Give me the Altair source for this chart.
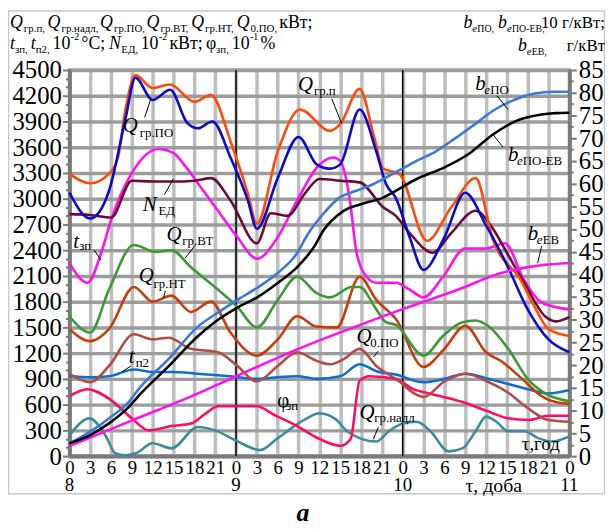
import altair as alt
import pandas as pd

FONT = "Liberation Serif"
W, H = 505, 390

# ---------------- data (hours from day 8, 00:00) ----------------
qgrp_h = [0, 3, 5.7, 7, 8.1, 9.5, 12, 14.5, 18, 20.4, 23.2, 25.7, 27, 30, 33.2, 37.5, 39, 41.8, 43.8, 45.2, 47.5, 51.5, 55, 58.5, 61, 65, 67, 69, 72]
qgrp_v = [3290, 3180, 3290, 3480, 4050, 4440, 4290, 4330, 4130, 4210, 3670, 3060, 2710, 3550, 4040, 3790, 3870, 4280, 3750, 3350, 3290, 2510, 2900, 3240, 2520, 2050, 1740, 1480, 1400]

qgrpo_h = [0, 3, 5.7, 8.1, 9.5, 12, 14.5, 17, 18.5, 20.6, 23.2, 25.7, 27, 30, 33, 35.6, 37.5, 39, 41.8, 44.2, 45.6, 47, 49, 51, 54, 57, 60, 63, 66, 69, 72]
qgrpo_v = [3070, 2770, 3090, 3940, 4410, 4150, 4270, 3880, 3820, 3900, 3480, 2980, 2650, 3240, 3720, 3400, 3350, 3400, 4040, 3550, 3170, 3010, 2550, 2170, 2550, 3070, 2690, 2230, 1710, 1360, 1210]

ned_h = [0, 3, 6, 9, 12, 15, 18, 20.4, 23.2, 27, 29, 31.4, 33.9, 36, 39, 41.8, 45.2, 47, 49, 52.3, 55, 58.5, 61, 63, 65.5, 68.5, 70, 72]
ned_v = [2820, 2810, 2780, 3210, 3200, 3200, 3210, 3240, 2980, 2480, 2830, 2800, 3060, 3230, 3210, 3190, 2900, 2800, 2600, 2370, 2600, 2860, 2650, 2370, 2020, 1630, 1570, 1620]

tzp_h = [0, 2.6, 4.7, 6, 9, 12.8, 15, 16.7, 18.5, 21.4, 24.2, 27, 30, 32.8, 35.6, 38, 39, 40.4, 41.3, 42.8, 44.2, 47, 49, 51, 53.8, 57, 60, 62.7, 65.5, 68, 72]
tzp_v = [2250, 2020, 2400, 2750, 3300, 3580, 3530, 3380, 3180, 2860, 2550, 2300, 2550, 2980, 3360, 3480, 3440, 2980, 2400, 2090, 2020, 2020, 1940, 1850, 2090, 2420, 2420, 2480, 2050, 1790, 1710]

gvt_h = [0, 3, 5.7, 9.3, 12.4, 14.7, 17.5, 21.4, 24.2, 27, 30, 32.8, 35.6, 37.5, 40.7, 41.8, 44.2, 45.6, 47, 51, 53.8, 56.6, 58.5, 60.4, 63.2, 66, 68.5, 72]
gvt_v = [1630, 1440, 1940, 2460, 2380, 2400, 2200, 1940, 1740, 1500, 1820, 2090, 1900, 1850, 1970, 1970, 1710, 1560, 1530, 1170, 1400, 1560, 1580, 1510, 1250, 900, 730, 640]

gnt_h = [0, 3, 5.7, 9.3, 12, 14.7, 17.5, 20.4, 23.2, 27, 30, 32.8, 35.6, 38.5, 41.8, 44.2, 47, 51, 54, 57, 60, 62.3, 65.2, 68, 70, 72]
gnt_v = [1480, 1340, 1480, 1970, 1800, 1870, 1680, 1800, 1440, 1170, 1360, 1630, 1510, 1500, 2090, 1820, 1600, 1040, 1250, 1520, 1210, 1100, 900, 700, 630, 610]

q0po_h = [0, 3, 5.7, 9.3, 12, 14.3, 17.5, 21.4, 24.2, 27, 30, 32.8, 35.6, 37.5, 39.5, 41.8, 44.2, 47, 51, 54, 57, 60.2, 63, 66, 69, 72]
q0po_v = [960, 860, 1050, 1420, 1360, 1380, 1250, 1210, 1050, 870, 1050, 1210, 1110, 1070, 1130, 1250, 1050, 900, 690, 870, 960, 870, 750, 560, 420, 400]

tp2_h = [0, 3, 5.7, 9.3, 12, 14.7, 18.5, 23.2, 27, 30, 32.8, 35.6, 39, 41.8, 44.2, 47, 51, 54, 57, 60.4, 63.2, 66, 69, 72]
tp2_v = [930, 920, 930, 1010, 980, 980, 960, 930, 900, 920, 930, 900, 930, 1070, 990, 950, 860, 900, 960, 900, 840, 780, 730, 770]

phi_h = [0, 2.6, 5.7, 9, 11.4, 14.7, 17.5, 19.7, 21.4, 24, 27, 29.5, 32.8, 36, 39, 40.5, 41.8, 43.2, 47, 49.5, 51.8, 56.6, 60, 63.2, 66, 69, 72]
phi_v = [700, 780, 670, 440, 300, 350, 380, 500, 580, 580, 580, 480, 350, 200, 120, 200, 880, 930, 900, 780, 730, 630, 530, 440, 420, 470, 470]

nadl_h = [0, 2.9, 5.2, 6.6, 8, 9.6, 12, 14.7, 18.5, 21, 24, 27.5, 30, 34.2, 36, 38.5, 40, 44.2, 46, 48, 50, 52, 54.6, 56.6, 58.5, 60, 61.5, 63.2, 65.5, 67.5, 69.5, 72]
nadl_v = [240, 440, 240, 35, 10, 35, 150, 90, 340, 300, 180, 70, 210, 440, 500, 420, 290, 170, 290, 380, 400, 290, 55, 90, 290, 460, 400, 290, 290, 210, 170, 230]

# right axis series
bepo_h = [0, 3, 5.7, 8.6, 10, 14.3, 18.5, 21.4, 24.2, 27, 30, 32.8, 34.2, 36.6, 38.9, 41.3, 43.8, 47, 50, 52.8, 55.6, 58.5, 61.3, 64.2, 67, 69.8, 72]
bepo_v = [2.8, 5.4, 8.3, 12, 14.8, 21.4, 28.5, 31.6, 34.4, 37, 40.3, 44.7, 48.5, 53.4, 56.9, 58.4, 59.9, 62.5, 65, 67.1, 70, 73.2, 76.3, 78.5, 79.8, 80.2, 80.2]

bepoev_h = [0, 3, 5.7, 8.6, 10, 14.3, 18.5, 21.4, 24.2, 27, 30, 32.8, 35.2, 36.6, 39.5, 42.3, 45.2, 47, 50, 53.8, 57.5, 61, 64.2, 68, 70, 72]
bepoev_v = [2.8, 4.6, 7.2, 10.9, 13.3, 19.8, 26.4, 30, 32.7, 34.9, 38.1, 41.6, 46, 49.7, 54, 55.6, 56.9, 58.4, 61, 63.4, 66.5, 70.8, 73.7, 75.2, 75.5, 75.6]

beev_h = [0, 8.6, 16.7, 24.2, 32.8, 41.4, 47, 51.8, 56.6, 61.3, 66, 72]
beev_v = [2.2, 7.6, 12.6, 17.7, 23.5, 28.6, 31.8, 34.4, 37, 39.9, 41.6, 42.5]

day_hours = [0, 24, 48, 72]
day_labels = ["8", "9", "10", "11"]
day_lines = [24, 48]

left_specs = [
    ("Q_gr_nadl", "#3A8C9C", nadl_h, nadl_v),
    ("phi_zp", "#FF0A64", phi_h, phi_v),
    ("t_p2", "#0A6ED2", tp2_h, tp2_v),
    ("Q_0PO", "#B44C46", q0po_h, q0po_v),
    ("Q_gr_NT", "#CC3A0A", gnt_h, gnt_v),
    ("Q_gr_VT", "#3A9A32", gvt_h, gvt_v),
    ("t_zp", "#FF10F0", tzp_h, tzp_v),
    ("N_ED", "#6A0A3A", ned_h, ned_v),
    ("Q_gr_p", "#FF4A0A", qgrp_h, qgrp_v),
    ("Q_gr_PO", "#0A0ACC", qgrpo_h, qgrpo_v),
]
right_specs = [
    ("b_eEV", "#FF10F0", beev_h, beev_v),
    ("b_ePO", "#3C78D8", bepo_h, bepo_v),
    ("b_ePO_EV", "#000000", bepoev_h, bepoev_v),
]

def long(specs, col):
    rows = []
    for name, _, hs, vs in specs:
        for h, v in zip(hs, vs):
            rows.append({"s": name, "h": h, col: v})
    return pd.DataFrame(rows)

left_df = long(left_specs, "v")
right_df = long(right_specs, "r")
all_names = [s[0] for s in left_specs + right_specs]
all_colors = [s[1] for s in left_specs + right_specs]

color = alt.Color("s:N", scale=alt.Scale(domain=all_names, range=all_colors), legend=None)

xenc = alt.X(
    "h:Q",
    scale=alt.Scale(domain=[0, 72], nice=False, zero=False),
    axis=alt.Axis(
        values=list(range(0, 73, 3)),
        labelExpr="'' + (datum.value % 24)",
        grid=True, gridColor="#BDBDBD", gridWidth=3.5,
        tickSize=0, labelFontSize=19, labelPadding=3,
        labelOverlap=False, labelFlush=False, labelBound=False,
        domainColor="#7A7A7A", domainWidth=4, title=None,
    ),
)

cond300 = "datum.value % 300 === 0"
yleft = alt.Y(
    "v:Q",
    scale=alt.Scale(domain=[0, 4500], nice=False),
    axis=alt.Axis(
        values=list(range(0, 4501, 100)),
        format="d",
        labelExpr="datum.value % 300 === 0 ? datum.label : ''",
        grid=True, gridColor="#9C9C9C", gridWidth=3.5,
        gridOpacity={"condition": {"test": cond300, "value": 1}, "value": 0},
        tickSize={"condition": {"test": cond300, "value": 7}, "value": 4},
        tickColor="#7A7A7A", tickWidth=2,
        labelFontSize=25, labelPadding=1,
        labelOverlap=False, labelFlush=False, labelBound=False,
        domainColor="#7A7A7A", domainWidth=4, title=None,
    ),
)
cond5 = "datum.value % 5 === 0"
yright = alt.Y(
    "r:Q",
    scale=alt.Scale(domain=[0, 85], nice=False),
    axis=alt.Axis(
        orient="right",
        values=[i * 2.5 for i in range(35)],
        format="d",
        labelExpr="datum.value % 5 === 0 ? datum.label : ''",
        grid=False,
        tickSize={"condition": {"test": cond5, "value": 7}, "value": 4},
        tickColor="#7A7A7A", tickWidth=2,
        labelFontSize=25, labelPadding=2,
        labelOverlap=False, labelFlush=False, labelBound=False,
        domainColor="#7A7A7A", domainWidth=4, title=None,
    ),
)

left_lines = alt.Chart(left_df).mark_line(strokeWidth=2.6, interpolate="monotone").encode(
    x=xenc, y=yleft, color=color, detail="s:N")
right_lines = alt.Chart(right_df).mark_line(strokeWidth=2.6, interpolate="monotone").encode(
    x=xenc, y=yright, color=color, detail="s:N")

rules = alt.Chart(pd.DataFrame({"h": day_lines})).mark_rule(color="black", strokeWidth=1.5).encode(x=xenc)

days = alt.Chart(pd.DataFrame({"h": day_hours, "t": day_labels})).mark_text(
    font=FONT, fontSize=19, baseline="alphabetic", color="black").encode(
    x=xenc, y=alt.value(425), text="t:N")

# ---------------- annotation texts (plot pixel coords) ----------------
# in-plot curve labels: italic main letter
lab_it_x = [54, 231, 74, 4, 98, 70, 60, 290, 293, 410, 443, 463]
lab_it_y = [63, 21, 142, 180, 173, 214, 296, 276, 353, 20, 92, 172]
lab_it_t = ["Q", "Q", "N", "t", "Q", "Q", "t", "Q", "Q", "b", "b", "b"]
# in-plot subscripts (upright)
lab_sub_x = [71, 247, 90, 10, 114, 85, 67, 304, 308, 425, 458, 478]
lab_sub_y = [68, 25, 146, 182, 177, 220, 300, 280, 356, 24, 96, 176]
lab_sub_t = ["гр.ПО", "гр.п", "ЕД", "зп", "гр.ВТ", "гр.НТ", "п2", "0.ПО", "гр.надл", "ПО", "ПО-ЕВ", "ЕВ"]
# in-plot italic "e" of b_e
lab_e_x = [419, 452, 472]
lab_e_y = [24, 96, 176]
# other in-plot texts
misc_x = [210, 219, 457, 400]
misc_y = [340, 343, 384, 426]
misc_t = ["φ", "зп", "τ,год", "τ, доба"]
misc_s = [21, 13, 19, 20]

# header (left block)
hd_it_x = [-60, -22, 31, 78, 123, 169, -60, -39, 40]
hd_it_y = [-42, -42, -42, -42, -42, -42, -21, -21, -21]
hd_it_t = ["Q", "Q", "Q", "Q", "Q", "Q", "t", "t", "N"]
hd_sub_x = [-46, -8, 45, 92, 137, 183, -55, -34, 52.5, 148]
hd_sub_y = [-38, -38, -38, -38, -38, -38, -17, -17, -17, -17]
hd_sub_t = ["гр.п,", "гр.надл,", "гр.ПО,", "гр.ВТ,", "гр.НТ,", "0.ПО,", "зп,", "п2,", "ЕД,", "зп,"]
hd_txt_x = [212, -17, 12, 72, 101, 138, 164, 193]
hd_txt_y = [-42, -21, -21, -21, -21, -21, -21, -21]
hd_txt_t = ["кВт;", "10", "°C;", "10", "кВт;", "φ", "10", "%"]
hd_sup_x = [1.5, 90.5, 182.5]
hd_sup_y = [-30, -30, -30]
hd_sup_t = ["-2", "-2", "-1"]

# header (right block)
hr_it_x = [398, 433, 453]
hr_it_y = [-42, -42, -19]
hr_e_x = [407, 442, 462]
hr_e_y = [-38, -38, -15]
hr_sub_x = [412, 447, 467]
hr_sub_y = [-38, -38, -15]
hr_sub_t = ["ПО,", "ПО-ЕВ,", "ЕВ,"]
hr_txt_y = [-42, -19]
hr_txt_t = ["10 г/кВт;", "г/кВт"]

# leader lines
ld_x = [82, 265, 105, 25, 117, 95, 53, 312, 312, 432, 427, 477]
ld_y = [30, 29, 110, 182, 190, 230, 305, 284, 361, 26, 64, 178]
ld_x2 = [76, 275, 96, 32, 127, 97, 62, 307, 307, 443, 438, 473]
ld_y2 = [48, 54, 126, 192, 177, 223, 299, 290, 373, 40, 78, 195]


def txt_layer(xs, ys, ts, size, align="left", **kw):
    sizes = size if isinstance(size, list) else [size] * len(xs)
    df = pd.DataFrame({"x": xs, "y": ys, "t": ts, "fs": sizes})
    return alt.Chart(df).mark_text(font=FONT, align=align, baseline="alphabetic", color="black", **kw).encode(
        x=alt.X("x:Q", scale=None, axis=None),
        y=alt.Y("y:Q", scale=None, axis=None),
        text="t:N",
        size=alt.Size("fs:Q", scale=None, legend=None),
    )

texts = [
    txt_layer(lab_it_x, lab_it_y, lab_it_t, 21, fontStyle="italic"),
    txt_layer(lab_sub_x, lab_sub_y, lab_sub_t, 13),
    txt_layer(lab_e_x, lab_e_y, ["e"] * 3, 13, fontStyle="italic"),
    txt_layer(misc_x, misc_y, misc_t, misc_s),
    txt_layer(hd_it_x, hd_it_y, hd_it_t, 18, fontStyle="italic"),
    txt_layer(hd_sub_x, hd_sub_y, hd_sub_t, 11),
    txt_layer(hd_txt_x, hd_txt_y, hd_txt_t, 18),
    txt_layer(hd_sup_x, hd_sup_y, hd_sup_t, 10),
    txt_layer(hr_it_x, hr_it_y, ["b"] * 3, 18, fontStyle="italic"),
    txt_layer(hr_e_x, hr_e_y, ["e"] * 3, 11, fontStyle="italic"),
    txt_layer(hr_sub_x, hr_sub_y, hr_sub_t, 10),
    txt_layer([541, 541], hr_txt_y, hr_txt_t, 17, align="right"),
]

leaders = alt.Chart(pd.DataFrame({"x": ld_x, "y": ld_y, "x2": ld_x2, "y2": ld_y2})).mark_rule(
    color="black", strokeWidth=1).encode(
    x=alt.X("x:Q", scale=None, axis=None), y=alt.Y("y:Q", scale=None, axis=None),
    x2="x2:Q", y2="y2:Q")

one = pd.DataFrame({"k": [0]})
border = alt.Chart(one).mark_rect(fillOpacity=0, stroke="#C8C8C8", strokeWidth=1.5).encode(
    x=alt.value(-61.5), x2=alt.value(540.5), y=alt.value(-59.5), y2=alt.value(428))
letter_a = alt.Chart(one).mark_text(font=FONT, fontSize=26, fontStyle="italic", fontWeight="bold",
                                    align="center", baseline="alphabetic", color="black").encode(
    x=alt.value(236), y=alt.value(456), text=alt.value("a"))

chart = alt.layer(
    border, rules, left_lines, right_lines, days, leaders, *texts, letter_a,
).resolve_scale(y="independent").properties(
    width=W, height=H,
    padding={"left": 62, "top": 60, "right": 36, "bottom": 69},
    autosize=alt.AutoSizeParams(type="none"),
    background="white",
).configure_view(stroke="#7A7A7A", strokeWidth=3).configure_axis(
    labelFont=FONT, labelColor="black")

chart.save("out.html", embed_options={"renderer": "svg", "actions": False})
